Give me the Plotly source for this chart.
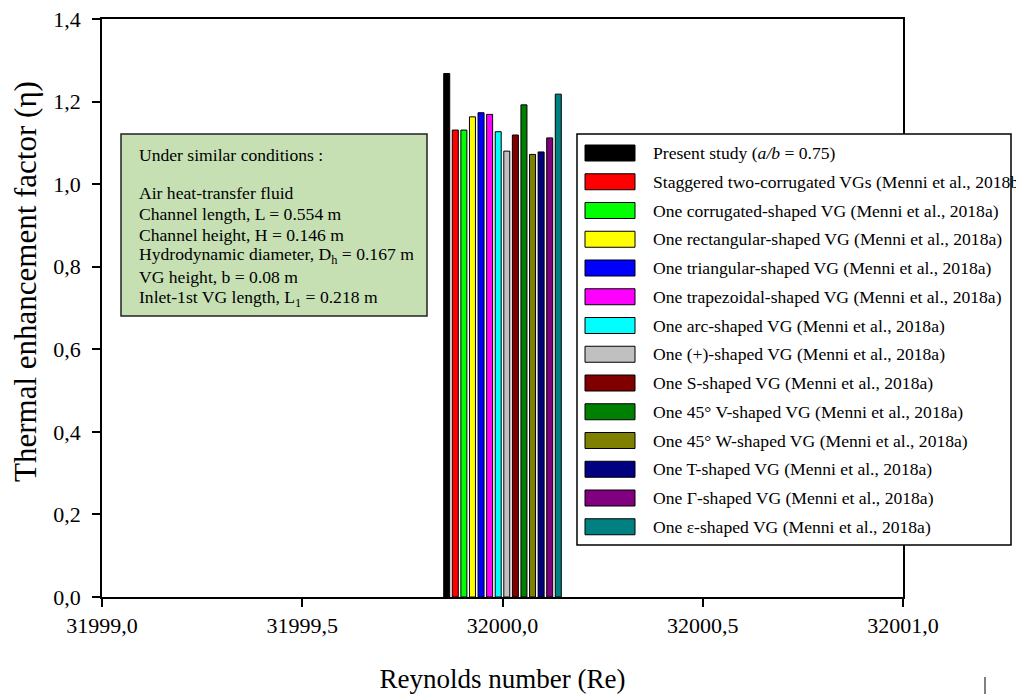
import plotly.graph_objects as go

# ---------------- data ----------------
reynolds = [32000]
series_labels = [
    "Present study (<i>a/b</i> = 0.75)",
    "Staggered two-corrugated VGs (Menni et al., 2018b)",
    "One corrugated-shaped VG (Menni et al., 2018a)",
    "One rectangular-shaped VG (Menni et al., 2018a)",
    "One triangular-shaped VG (Menni et al., 2018a)",
    "One trapezoidal-shaped VG (Menni et al., 2018a)",
    "One arc-shaped VG (Menni et al., 2018a)",
    "One (+)-shaped VG (Menni et al., 2018a)",
    "One S-shaped VG (Menni et al., 2018a)",
    "One 45° V-shaped VG (Menni et al., 2018a)",
    "One 45° W-shaped VG (Menni et al., 2018a)",
    "One T-shaped VG (Menni et al., 2018a)",
    "One Γ-shaped VG (Menni et al., 2018a)",
    "One ε-shaped VG (Menni et al., 2018a)",
]
eta_values = [1.268, 1.131, 1.131, 1.163, 1.173, 1.169, 1.127,
              1.080, 1.119, 1.192, 1.072, 1.078, 1.112, 1.218]
series_colors = ["#000000", "#ff0000", "#00ff00", "#ffff00", "#0000ff", "#ff00ff",
                 "#00ffff", "#c0c0c0", "#800000", "#008000", "#808000", "#000080",
                 "#800080", "#008080"]
y_ticks = [0.0, 0.2, 0.4, 0.6, 0.8, 1.0, 1.2, 1.4]
x_ticks = [31999.0, 31999.5, 32000.0, 32000.5, 32001.0]
x_title = "Reynolds number (Re)"
y_title = "Thermal enhancement factor (η)"
info_lines = [
    "Under similar conditions :",
    "",
    "Air heat-transfer fluid",
    "Channel length, L = 0.554 m",
    "Channel height, H = 0.146 m",
    "Hydrodynamic diameter, D<sub>h</sub> = 0.167 m",
    "VG height, b = 0.08 m",
    "Inlet-1st VG length, L<sub>1</sub> = 0.218 m",
]

# ---------------- layout geometry (screen pixels) ----------------
OFF = 8                      # default page body margin
W, H = 1024 - OFF, 694 - OFF
L, R, T, B = 102, 903, 19, 597   # plot area in screen pixels
FONT = "Liberation Serif, Times New Roman, serif"


def px(x):
    return (x - L) / (R - L)


def py(y):
    return (B - y) / (B - T)


fig = go.Figure()
for lab, val, col in zip(series_labels, eta_values, series_colors):
    fig.add_trace(go.Bar(
        x=reynolds, y=[val], name=lab,
        marker=dict(color=col, line=dict(color="black", width=1)),
        showlegend=False,
    ))

shapes = []
annotations = []

# y-axis title
annotations.append(dict(xref="paper", yref="paper", x=px(25), y=py(282),
                        xanchor="center", yanchor="middle", showarrow=False,
                        textangle=-90, text=y_title,
                        font=dict(family=FONT, size=31, color="black")))

# info box
shapes.append(dict(type="rect", xref="paper", yref="paper",
                   x0=px(121), x1=px(427), y0=py(316), y1=py(134),
                   fillcolor="#c6e0b4", line=dict(color="#222222", width=1.5),
                   layer="above"))
for i, line in enumerate(info_lines):
    if not line:
        continue
    yy = 155 if i == 0 else 193 + (i - 2) * 21
    annotations.append(dict(xref="paper", yref="paper", x=px(137), y=py(yy),
                            xanchor="left", yanchor="middle", showarrow=False,
                            text=line, font=dict(family=FONT, size=17.6, color="black")))

# custom legend
shapes.append(dict(type="rect", xref="paper", yref="paper",
                   x0=px(577), x1=px(1011), y0=py(545), y1=py(134),
                   fillcolor="white", line=dict(color="black", width=1.5),
                   layer="above"))
for i, (lab, col) in enumerate(zip(series_labels, series_colors)):
    yc = 153 + i * 28.75
    shapes.append(dict(type="rect", xref="paper", yref="paper",
                       x0=px(585), x1=px(635), y0=py(yc + 8), y1=py(yc - 8),
                       fillcolor=col, line=dict(color="black", width=1),
                       layer="above"))
    annotations.append(dict(xref="paper", yref="paper", x=px(651), y=py(yc),
                            xanchor="left", yanchor="middle", showarrow=False,
                            text=lab, font=dict(family=FONT, size=17.6, color="black")))

# small stray mark at bottom right
shapes.append(dict(type="line", xref="paper", yref="paper",
                   x0=px(985), x1=px(985), y0=py(677), y1=py(694),
                   line=dict(color="black", width=1)))

fig.update_layout(
    width=W, height=H,
    margin=dict(l=L - OFF, r=W - (R - OFF), t=T - OFF, b=H - (B - OFF), autoexpand=False),
    paper_bgcolor="white", plot_bgcolor="white",
    barmode="group", bargap=0.7, bargroupgap=0.3,
    separators=", ",
    font=dict(family=FONT, color="black"),
    shapes=shapes, annotations=annotations,
    showlegend=False,
)
fig.update_xaxes(
    range=[31999.0, 32001.0], tickvals=x_ticks, tickformat=".1f",
    showgrid=False, zeroline=False,
    showline=True, linecolor="black", linewidth=1.5, mirror=True,
    ticks="outside", ticklen=8, tickwidth=1.5, tickcolor="black",
    ticklabeloverflow="allow",
    tickfont=dict(family=FONT, size=22, color="black"),
    title=dict(text=x_title, font=dict(family=FONT, size=27, color="black"),
               standoff=40),
)
fig.update_yaxes(
    range=[0, 1.4], tickvals=y_ticks, tickformat=".1f",
    showgrid=False, zeroline=False,
    showline=True, linecolor="black", linewidth=1.5, mirror=True,
    ticks="outside", ticklen=8, tickwidth=1.5, tickcolor="black",
    ticklabeloverflow="allow", ticklabelstandoff=7,
    tickfont=dict(family=FONT, size=22, color="black"),
)

fig.write_html("out.html")
